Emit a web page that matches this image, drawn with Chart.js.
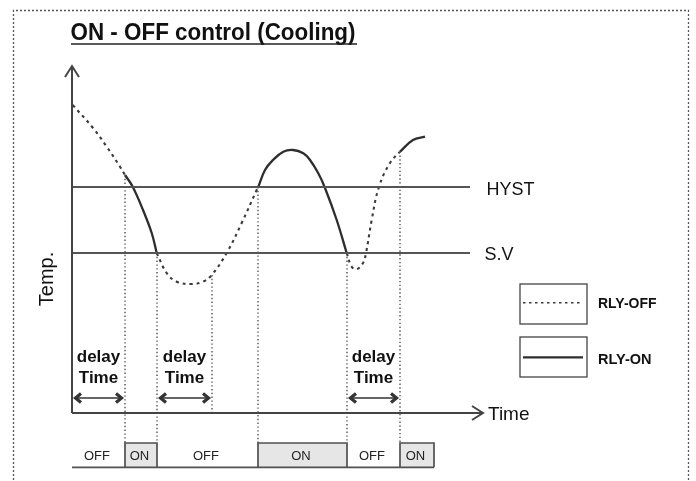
<!DOCTYPE html>
<html><head><meta charset="utf-8">
<script src="https://cdn.jsdelivr.net/npm/chart.js@4.4.1/dist/chart.umd.min.js"></script>
<style>html,body{margin:0;padding:0;background:#fff;}canvas{display:block;}</style>
</head><body>
<canvas id="c" width="696" height="481"></canvas>
<script>
// time (x): units from the temperature axis; temperature (y): units above the time axis
const SV = 160;
const HYST = 226;
const offCurve1 = [[0.7,308],[21.3,284.7],[34.7,266.3],[48,246.3],[53,238]];
const onCurve1  = [[53,238],[60.7,226.3],[71,203],[79.7,180],[84.7,160]];
const offCurve2 = [[84.7,160],[94.7,140],[104.7,131.3],[119.7,129],[131,131.3],[139.7,138],[154.7,160],[169.7,190],[184.7,223],[186.3,226]];
const onCurve2  = [[186.3,226],[193,243],[201,253],[211.3,261.3],[221,263],[231.3,259.7],[238,253],[246.3,239.7],[253,225],[264.7,193],[274.7,160]];
const offCurve3 = [[274.7,160],[279.7,146.3],[284.7,143.7],[291,150],[294,160],[299.7,193],[307,226.3],[318,250],[328,261.3]];
const onCurve3  = [[328,261.3],[341,273],[353,276.3]];
const relayStates = ['OFF','ON','OFF','ON','OFF','ON'];
const relayEdges  = [0,53,85,186,275,328,362];
const delayWindows = [[0,53],[85,140],[275,328]];
const markerTimes = [53,85,140,186,275,328];
const markerTemps = [238,160,138,226,160,261.3];
const markerToRelay = [true,true,false,true,true,true];
const thresholdLabels = ['HYST','S.V'];
const legendLabels = ['RLY-OFF','RLY-ON'];
const timeAxisEnd = 411;
const tempAxisEnd = 347;
const thresholdEnd = 398;
const relayTop = -30, relayBottom = -54.3;

const toPts = a => a.map(p => ({x:p[0], y:p[1]}));
const offStyle = {borderColor:'#3a3a3a', borderWidth:2.1, borderDash:[3,4]};
const onStyle  = {borderColor:'#2e2e2e', borderWidth:2.3, borderDash:[]};

const datasets = [];
function add(pts, style, extra){
  datasets.push(Object.assign({data:toPts(pts), showLine:true, pointRadius:0, fill:false,
    tension:0.4}, style, extra||{}));
}
// axes
add([[0,0],[timeAxisEnd,0]], {borderColor:'#444', borderWidth:2, tension:0});
add([[0,0],[0,tempAxisEnd]], {borderColor:'#444', borderWidth:2, tension:0});
// thresholds
add([[0,HYST],[thresholdEnd,HYST]], {borderColor:'#555', borderWidth:2, tension:0});
add([[0,SV],[thresholdEnd,SV]], {borderColor:'#555', borderWidth:2, tension:0});
// vertical markers
markerTimes.forEach((t,i)=>{
  add([[t,markerTemps[i]],[t, markerToRelay[i]? relayTop : 0]],
      {borderColor:'#555', borderWidth:1.4, borderDash:[1.4,2.4], tension:0});
});
// curves
[offCurve1,offCurve2,offCurve3].forEach(c=>add(c, offStyle));
[onCurve1,onCurve2,onCurve3].forEach(c=>add(c, onStyle));

const FONT = '"Liberation Sans", Arial, Helvetica, sans-serif';

function fitText(ctx, str, px, py, w){
  const m = ctx.measureText(str).width;
  ctx.save(); ctx.translate(px,py); ctx.scale(w/m,1); ctx.textAlign='left'; ctx.fillText(str,0,0); ctx.restore();
}

const diagram = {
  id:'diagram',
  beforeDatasetsDraw(chart){
    const {ctx, scales:{x,y}} = chart;
    const X=v=>x.getPixelForValue(v), Y=v=>y.getPixelForValue(v);
    ctx.save();
    ctx.fillStyle='#e6e6e6';
    relayStates.forEach((s,i)=>{
      if(s==='ON'){
        ctx.fillRect(X(relayEdges[i]), Y(relayTop), X(relayEdges[i+1])-X(relayEdges[i]), Y(relayBottom)-Y(relayTop));
      }
    });
    ctx.restore();
  },
  afterDatasetsDraw(chart){
    const {ctx, scales:{x,y}} = chart;
    const X=v=>x.getPixelForValue(v), Y=v=>y.getPixelForValue(v);
    ctx.save();
    // outer dotted frame
    ctx.strokeStyle='#555'; ctx.lineWidth=1.3; ctx.setLineDash([2,2]);
    ctx.beginPath();
    ctx.moveTo(13.5,500); ctx.lineTo(13.5,10.5); ctx.lineTo(688.5,10.5); ctx.lineTo(688.5,500);
    ctx.stroke();
    ctx.setLineDash([]);

    // axis arrowheads
    ctx.strokeStyle='#444'; ctx.lineWidth=2; ctx.lineJoin='miter';
    ctx.beginPath();
    ctx.moveTo(X(0)-7, Y(tempAxisEnd)+11); ctx.lineTo(X(0), Y(tempAxisEnd)); ctx.lineTo(X(0)+7, Y(tempAxisEnd)+11);
    ctx.moveTo(X(timeAxisEnd)-11, Y(0)-7); ctx.lineTo(X(timeAxisEnd), Y(0)); ctx.lineTo(X(timeAxisEnd)-11, Y(0)+7);
    ctx.stroke();

    // relay band outlines
    ctx.strokeStyle='#505050'; ctx.lineWidth=1.7;
    ctx.beginPath();
    ctx.moveTo(X(relayEdges[0]), Y(relayBottom)); ctx.lineTo(X(relayEdges[relayEdges.length-1]), Y(relayBottom));
    relayStates.forEach((s,i)=>{
      if(s==='ON'){
        const a=X(relayEdges[i]), b=X(relayEdges[i+1]);
        ctx.moveTo(a, Y(relayBottom)); ctx.lineTo(a, Y(relayTop)); ctx.lineTo(b, Y(relayTop)); ctx.lineTo(b, Y(relayBottom));
      }
    });
    ctx.stroke();
    ctx.fillStyle='#222'; ctx.font='13px '+FONT; ctx.textAlign='center'; ctx.textBaseline='alphabetic';
    relayStates.forEach((s,i)=>{
      ctx.fillText(s, (X(relayEdges[i])+X(relayEdges[i+1]))/2 - 1.5, Y(-47.3));
    });

    // delay windows
    delayWindows.forEach(([a,b])=>{
      const mid=(X(a)+X(b))/2;
      ctx.fillStyle='#111'; ctx.font='bold 17px '+FONT; ctx.textAlign='center';
      ctx.fillText('delay', mid, Y(51));
      ctx.fillText('Time', mid, Y(30));
      const xa=X(a+3), xb=X(b-3), yy=Y(15);
      ctx.strokeStyle='#333'; ctx.lineWidth=1.6;
      ctx.beginPath(); ctx.moveTo(xa+2,yy); ctx.lineTo(xb-2,yy); ctx.stroke();
      ctx.lineWidth=3.2; ctx.lineCap='butt'; ctx.lineJoin='miter';
      ctx.beginPath();
      ctx.moveTo(xa+6,yy-4.5); ctx.lineTo(xa+0.5,yy); ctx.lineTo(xa+6,yy+4.5);
      ctx.moveTo(xb-6,yy-4.5); ctx.lineTo(xb-0.5,yy); ctx.lineTo(xb-6,yy+4.5);
      ctx.stroke();
    });

    // threshold labels + time label
    ctx.fillStyle='#111'; ctx.font='18px '+FONT; ctx.textAlign='left';
    ctx.fillText(thresholdLabels[0], X(thresholdEnd+16.5), Y(HYST-7.5));
    ctx.fillText(thresholdLabels[1], X(thresholdEnd+14.5), Y(SV-7));
    ctx.font='19px '+FONT;
    ctx.fillText('Time', X(timeAxisEnd+5), Y(-7));

    // Temp. axis label
    ctx.save();
    ctx.translate(X(-19.5), Y(134)); ctx.rotate(-Math.PI/2);
    ctx.font='20px '+FONT; ctx.textAlign='center'; ctx.fillText('Temp.',0,0);
    ctx.restore();

    // legend boxes
    const boxes=[[129,89,110.3,offStyle],[76,36,55.7,onStyle]];
    boxes.forEach(([t,b,lineT,st],i)=>{
      ctx.strokeStyle='#444'; ctx.lineWidth=1.3; ctx.setLineDash([]);
      ctx.strokeRect(X(448), Y(t), X(515)-X(448), Y(b)-Y(t));
      ctx.strokeStyle=st.borderColor;
      ctx.lineWidth= i===0 ? 1.5 : 2.3;
      ctx.setLineDash(i===0 ? [2.5,3.5] : []);
      ctx.beginPath(); ctx.moveTo(X(451), Y(lineT)); ctx.lineTo(X(i===0?508:511), Y(lineT)); ctx.stroke();
      ctx.setLineDash([]);
      ctx.fillStyle='#111'; ctx.font='bold 14px '+FONT; ctx.textAlign='left';
      fitText(ctx, legendLabels[i], X(526), Y(i===0?105.5:49), i===0?58.5:53.5);
    });

    // title
    ctx.fillStyle='#111'; ctx.font='bold 24px '+FONT;
    fitText(ctx, 'ON - OFF control (Cooling)', 70.5, 40, 285);
    ctx.strokeStyle='#222'; ctx.lineWidth=1.6;
    ctx.beginPath(); ctx.moveTo(71,44); ctx.lineTo(357,44); ctx.stroke();
    ctx.restore();
  }
};

new Chart(document.getElementById('c'), {
  type:'scatter',
  data:{datasets},
  options:{
    responsive:false, animation:false, devicePixelRatio:1, events:[],
    layout:{padding:0},
    plugins:{legend:{display:false}, tooltip:{enabled:false}, title:{display:false}},
    scales:{
      x:{type:'linear', min:-72, max:624, display:false},
      y:{type:'linear', min:-68, max:413, display:false}
    }
  },
  plugins:[diagram]
});
</script>
</body></html>
